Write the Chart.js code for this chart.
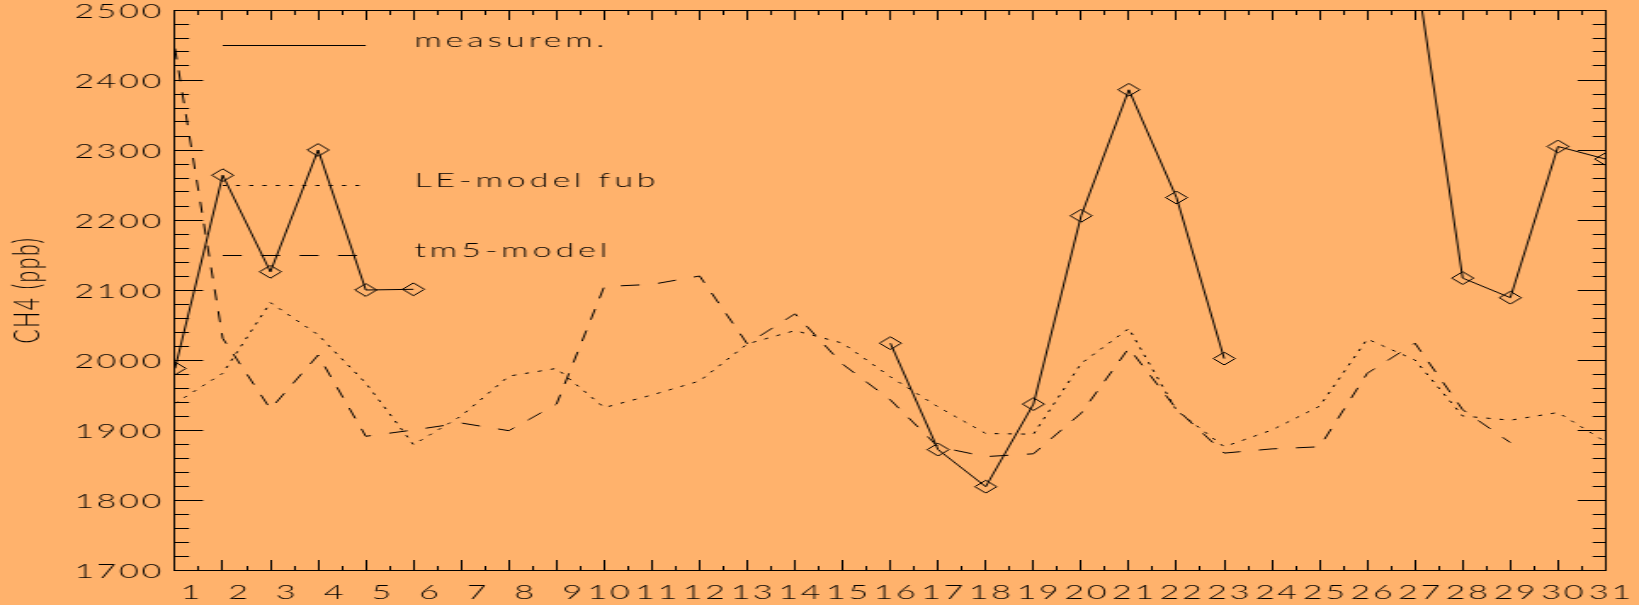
<!DOCTYPE html>
<html>
<head>
<meta charset="utf-8">
<script src="https://cdn.jsdelivr.net/npm/chart.js@4/dist/chart.umd.min.js"></script>
<style>
  html, body { margin: 0; padding: 0; background: #ffb26c; width: 1639px; height: 605px; overflow: hidden; }
  /* the plot is laid out on a narrower canvas and widened horizontally */
  #stage { width: 964px; height: 605px; transform: scaleX(1.700207); transform-origin: 0 0; }
  canvas { display: block; }
</style>
</head>
<body>
<div id="stage"><canvas id="chart" width="964" height="605"></canvas></div>
<script>
// Daily CH4 mixing ratios (ppb), days 1..31
const days = [1, 2, 3, 4, 5, 6, 7, 8, 9, 10, 11, 12, 13, 14, 15, 16,
              17, 18, 19, 20, 21, 22, 23, 24, 25, 26, 27, 28, 29, 30, 31];

const measurement = [1988, 2264, 2126, 2300, 2100, 2101, null, null, null, null, null,
                     null, null, null, null, 2024, 1872, 1819, 1937, 2206, 2386, 2232,
                     2002, null, null, null, 2567, 2117, 2089, 2305, 2287];

const leModel = [1938, 1981, 2082, 2036, 1967, 1879, 1920, 1977, 1988, 1932, 1950,
                 1970, 2023, 2042, 2024, 1976, 1933, 1895, 1894, 1995, 2045, 1928,
                 1876, 1900, 1934, 2030, 2000, 1920, 1914, 1925, 1883];

const tm5Model = [2445, 2031, 1930, 2007, 1891, 1900, 1910, 1899, 1937, 2105, 2108,
                  2120, 2023, 2066, 1994, 1943, 1876, 1862, 1866, 1924, 2017, 1930,
                  1867, 1873, 1876, 1981, 2024, 1929, 1882, null, null];

const seriesNames = ['measurem.', 'LE-model fub', 'tm5-model'];
const yLabelValues = [1700, 1800, 1900, 2000, 2100, 2200, 2300, 2400, 2500];
const xLabelValues = days;

// layout (canvas pixels before the horizontal widening)
const CANVAS_W = 964;
const AREA_LEFT = 102.93;
const AREA_RIGHT = 944.42;
const AREA_TOP = 10;
const X_AXIS_H = 35;
const Y_MAJOR = 16.5, Y_MINOR = 8.25;
const X_MAJOR = 10, X_MINOR = 5;

const FAMILY = 'Lato, "DejaVu Sans", sans-serif';
const TICK_FONT = { family: FAMILY, size: 20, weight: 300, lineHeight: 1.2 };
const TITLE_FONT = { family: FAMILY, size: 21, weight: 300, lineHeight: 1.2 };
const AXIS_SPACING = '1.6px';
const KEY_SPACING = '2.3px';
const INK = '#000000';

Chart.defaults.font.family = FAMILY;

const toPoints = vals => days.map((d, i) => ({ x: d, y: vals[i] }));

const isMinorY = c => c.tick && !yLabelValues.includes(c.tick.value);
const isMinorX = c => c.tick && !Number.isInteger(c.tick.value);

// wider letter spacing for the axis text
const textSpacing = {
  id: 'textSpacing',
  beforeDraw(chart) { chart.ctx.letterSpacing = AXIS_SPACING; },
  afterDraw(chart) { chart.ctx.letterSpacing = '0px'; }
};

// key drawn in data space: sample line from day 2 to day 5, name at day 6
const seriesKey = {
  id: 'seriesKey',
  afterDatasetsDraw(chart, args, opts) {
    const { ctx, scales } = chart;
    const xs = scales.x, ys = scales.y;
    ctx.save();
    ctx.font = `${TICK_FONT.weight} ${TICK_FONT.size}px ${FAMILY}`;
    ctx.letterSpacing = KEY_SPACING;
    ctx.fillStyle = INK;
    ctx.strokeStyle = INK;
    ctx.lineWidth = 1;
    ctx.textAlign = 'left';
    ctx.textBaseline = 'alphabetic';
    chart.data.datasets.forEach((ds, i) => {
      const py = Math.round(ys.getPixelForValue(opts.levels[i])) + 0.5;
      ctx.setLineDash(opts.dashes[i]);
      ctx.beginPath();
      ctx.moveTo(xs.getPixelForValue(opts.lineFrom), py);
      ctx.lineTo(xs.getPixelForValue(opts.lineTo), py);
      ctx.stroke();
      ctx.setLineDash([]);
      ctx.fillText(ds.label, xs.getPixelForValue(opts.textAt) + 0.5, py + 1.5);
    });
    ctx.restore();
  }
};

new Chart(document.getElementById('chart'), {
  type: 'line',
  data: {
    datasets: [
      {
        label: seriesNames[0],
        data: toPoints(measurement),
        borderColor: INK,
        borderWidth: 1,
        pointStyle: 'rectRot',
        pointRadius: 6.4,
        pointBorderWidth: 1,
        pointBorderColor: INK,
        pointBackgroundColor: 'rgba(0,0,0,0)',
        spanGaps: false,
        clip: 0
      },
      {
        label: seriesNames[1],
        data: toPoints(leModel),
        borderColor: INK,
        borderWidth: 1,
        borderDash: [2.4, 5.4],
        pointRadius: 0,
        clip: 0
      },
      {
        label: seriesNames[2],
        data: toPoints(tm5Model),
        borderColor: INK,
        borderWidth: 1,
        borderDash: [11, 11],
        pointRadius: 0,
        spanGaps: false,
        clip: 0
      }
    ]
  },
  options: {
    responsive: false,
    animation: false,
    events: [],
    devicePixelRatio: 1,
    layout: { padding: { left: 0, top: AREA_TOP, right: CANVAS_W - AREA_RIGHT, bottom: 0 } },
    elements: { line: { tension: 0 } },
    plugins: {
      legend: { display: false },
      tooltip: { enabled: false },
      seriesKey: {
        levels: [2450, 2250, 2150],
        dashes: [[], [2.4, 5.4], [11.2, 11.4]],
        lineFrom: 2, lineTo: 5, textAt: 6
      }
    },
    scales: {
      x: {
        type: 'linear', position: 'bottom', min: 1, max: 31,
        ticks: {
          stepSize: 0.5, autoSkip: false, maxRotation: 0, minRotation: 0,
          align: 'end', labelOffset: 16.5, padding: 21, color: INK, font: TICK_FONT,
          callback: v => (xLabelValues.includes(v) ? String(v) : '')
        },
        grid: {
          drawOnChartArea: false, drawTicks: true, tickLength: -X_MAJOR,
          tickColor: INK, tickWidth: 1,
          tickBorderDash: c => (isMinorX(c) ? [X_MINOR, 100] : []),
          tickBorderDashOffset: 0
        },
        border: { display: true, color: INK, width: 1 },
        afterFit: s => { s.height = X_AXIS_H; s.paddingLeft = 0; s.paddingRight = 0; }
      },
      x2: {
        type: 'linear', position: 'top', min: 1, max: 31,
        ticks: { stepSize: 0.5, autoSkip: false, display: false, maxRotation: 0 },
        grid: {
          drawOnChartArea: false, drawTicks: true, tickLength: -X_MAJOR,
          tickColor: INK, tickWidth: 1,
          tickBorderDash: c => (isMinorX(c) ? [X_MINOR, 100] : []),
          tickBorderDashOffset: c => (isMinorX(c) ? 100 : 0)
        },
        border: { display: true, color: INK, width: 1 },
        afterFit: s => { s.height = 0; s.paddingLeft = 0; s.paddingRight = 0; }
      },
      y: {
        type: 'linear', position: 'left', min: 1700, max: 2500,
        ticks: {
          stepSize: 20, autoSkip: false, padding: 23, labelOffset: 1.5,
          color: INK, font: TICK_FONT,
          callback: v => (yLabelValues.includes(v) ? String(v) : '')
        },
        grid: {
          drawOnChartArea: false, drawTicks: true, tickLength: -Y_MAJOR,
          tickColor: INK, tickWidth: 1,
          tickBorderDash: c => (isMinorY(c) ? [Y_MINOR, 100] : []),
          tickBorderDashOffset: c => (isMinorY(c) ? 100 : 0)
        },
        border: { display: true, color: INK, width: 1 },
        title: { display: true, text: 'CH4 (ppb)', color: INK, font: TITLE_FONT, padding: { top: 4, bottom: 0 } },
        afterFit: s => { s.width = AREA_LEFT; s.paddingTop = 0; s.paddingBottom = 0; }
      },
      y2: {
        type: 'linear', position: 'right', min: 1700, max: 2500,
        ticks: { stepSize: 20, autoSkip: false, display: false },
        grid: {
          drawOnChartArea: false, drawTicks: true, tickLength: -Y_MAJOR,
          tickColor: INK, tickWidth: 1,
          tickBorderDash: c => (isMinorY(c) ? [Y_MINOR, 100] : []),
          tickBorderDashOffset: 0
        },
        border: { display: true, color: INK, width: 1 },
        afterFit: s => { s.width = 0; s.paddingTop = 0; s.paddingBottom = 0; }
      }
    }
  },
  plugins: [textSpacing, seriesKey]
});
</script>
</body>
</html>
